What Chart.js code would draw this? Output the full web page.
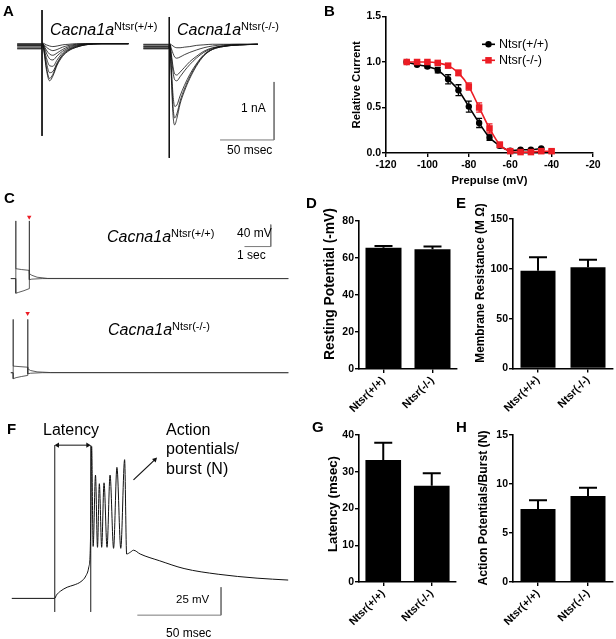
<!DOCTYPE html>
<html><head><meta charset="utf-8">
<script src="https://cdn.jsdelivr.net/npm/chart.js@4.4.0/dist/chart.umd.min.js"></script>
<style>
html,body{margin:0;padding:0;background:#fff;}
#fig{position:relative;width:616px;height:639px;overflow:hidden;font-family:Arial,"Liberation Sans",Helvetica,sans-serif;color:#000;background:#fff;}
.t{position:absolute;white-space:nowrap;line-height:1;}
.vt{position:absolute;white-space:nowrap;line-height:1;font-weight:bold;transform:translate(-50%,-50%) rotate(-90deg);}
.sup{font-style:normal;font-size:11px;position:relative;top:-5px;}
</style></head><body>
<div id="fig"></div>
<script>
// ================= DATA =================
// Panel A: Ca2+ current families (time in ms, current in nA)
const ampTimeWT = [-23, -0.5, 0.5, 2, 4, 7, 10, 14, 19, 25, 32, 40, 55, 80];
const ampWT1 = [-0.05, -0.05, 0.02, -0.12, -0.40, -0.60, -0.52, -0.33, -0.18, -0.08, -0.02, 0.02, 0.04, 0.04];
const ampWT2 = [-0.04, -0.04, 0.03, -0.10, -0.36, -0.56, -0.49, -0.31, -0.16, -0.07, -0.02, 0.02, 0.04, 0.04];
const ampWT3 = [-0.02, -0.02, 0.03, -0.08, -0.28, -0.46, -0.44, -0.29, -0.15, -0.06, -0.01, 0.02, 0.04, 0.04];
const ampWT4 = [0.00, 0.00, 0.04, -0.05, -0.20, -0.34, -0.35, -0.24, -0.12, -0.05, 0.00, 0.03, 0.04, 0.04];
const ampWT5 = [0.01, 0.01, 0.04, -0.02, -0.12, -0.22, -0.24, -0.17, -0.09, -0.03, 0.01, 0.03, 0.04, 0.04];
const ampWT6 = [0.02, 0.02, 0.04, 0.00, -0.07, -0.14, -0.16, -0.12, -0.06, -0.01, 0.02, 0.03, 0.04, 0.04];
const ampWT7 = [0.03, 0.03, 0.04, 0.02, -0.02, -0.06, -0.08, -0.06, -0.02, 0.01, 0.03, 0.04, 0.04, 0.04];
const ampWT8 = [0.04, 0.04, 0.05, 0.04, 0.02, 0.00, -0.01, 0.00, 0.02, 0.03, 0.04, 0.04, 0.04, 0.04];
const ampTimeKO = [-24, -0.5, 0.5, 2, 3.5, 5, 7, 10, 14, 19, 25, 32, 40, 50, 65, 82];
const ampKO1 = [-0.05, -0.05, 0.02, -0.60, -1.20, -1.36, -1.25, -1.00, -0.78, -0.56, -0.35, -0.17, -0.06, -0.01, 0.02, 0.03];
const ampKO2 = [-0.04, -0.04, 0.02, -0.50, -1.05, -1.24, -1.17, -0.95, -0.74, -0.53, -0.33, -0.16, -0.06, -0.01, 0.02, 0.03];
const ampKO3 = [-0.03, -0.03, 0.02, -0.40, -0.85, -1.04, -1.02, -0.86, -0.68, -0.49, -0.31, -0.15, -0.05, 0.00, 0.02, 0.03];
const ampKO4 = [-0.01, -0.01, 0.03, -0.20, -0.45, -0.58, -0.60, -0.53, -0.43, -0.32, -0.21, -0.11, -0.04, 0.00, 0.02, 0.03];
const ampKO5 = [0.00, 0.00, 0.03, -0.15, -0.36, -0.48, -0.50, -0.45, -0.37, -0.27, -0.18, -0.09, -0.03, 0.00, 0.02, 0.03];
const ampKO6 = [0.02, 0.02, 0.03, -0.05, -0.13, -0.19, -0.21, -0.19, -0.15, -0.11, -0.07, -0.03, 0.00, 0.02, 0.03, 0.03];
const ampKO7 = [0.03, 0.03, 0.04, 0.02, 0.00, -0.02, -0.03, -0.03, -0.02, -0.01, 0.01, 0.02, 0.03, 0.03, 0.03, 0.03];
const stepArtifactWT = [0.62, -1.55];   // nA extent of step artifact
const stepArtifactKO = [0.50, -1.93];
const scaleBarA = { nA: 1, ms: 50 };

// Panel B: steady-state inactivation
const seriesNames = ['Ntsr(+/+)', 'Ntsr(-/-)'];
const prepulse = [-110, -105, -100, -95, -90, -85, -80, -75, -70, -65, -60, -55, -50, -45, -40];
const wtCurrent = [1.00, 0.97, 0.95, 0.91, 0.81, 0.69, 0.51, 0.33, 0.17, 0.08, 0.025, 0.035, 0.035, 0.05, null];
const wtError   = [0.01, 0.01, 0.015, 0.03, 0.05, 0.06, 0.06, 0.05, 0.03, 0.02, 0.01, 0.01, 0.01, 0.01, null];
const koCurrent = [1.00, 1.00, 1.00, 0.99, 0.96, 0.88, 0.73, 0.50, 0.27, 0.09, 0.02, 0.01, 0.01, 0.02, 0.02];
const koError   = [0.01, 0.01, 0.01, 0.01, 0.02, 0.03, 0.04, 0.05, 0.05, 0.03, 0.02, 0.01, 0.01, 0.02, 0.02];
const prepulseTicks = [-120, -100, -80, -60, -40, -20];
const currentTicks = [0, 0.5, 1.0, 1.5];

// Panel C: voltage traces (time in s, voltage in mV)
const cTopDepT = [0, 0.185, 0.187, 0.195, 0.40, 0.70, 0.705, 0.80, 1.2, 10.56];
const cTopDepV = [-65, -65, 40, -47, -48.5, -50, -67, -66, -65, -65];
const cTopHypT = [0, 0.185, 0.19, 0.30, 0.50, 0.70, 0.702, 0.71, 0.80, 1.0, 1.4, 10.56];
const cTopHypV = [-65, -65, -91.7, -90, -87, -83.3, 40, -56, -59, -62.5, -64.7, -65];
const cBotDepT = [0, 0.085, 0.087, 0.095, 0.35, 0.64, 0.645, 0.75, 1.2, 10.56];
const cBotDepV = [-65, -65, 32, -53, -54, -55, -67, -66, -65, -65];
const cBotHypT = [0, 0.085, 0.09, 0.20, 0.40, 0.64, 0.642, 0.65, 0.75, 1.0, 1.5, 10.56];
const cBotHypV = [-65, -65, -76, -74, -72, -70, 32, -58, -61, -63.5, -64.7, -65];
const cTopMarker = [0.70, 47];
const cBotMarker = [0.64, 43];
const scaleBarC = { mV: 40, s: 1 };

// Panel F: burst trace (time in ms, voltage in mV)
const fTime = [0, 25.6, 26.7, 29.1, 33.1, 37.2, 41.3, 44.2, 46.0, 46.8, 47.3, 47.7, 48.6, 50.0, 51.2, 52.3, 53.7, 55.1, 56.9, 58.7, 60.8, 62.8, 65.1, 67.4, 68.6, 70.9, 72.7, 76.7, 88.4, 102.9, 123.3, 146.5, 165.1];
const fVolt = [-70, -70, -67, -63.5, -60, -58, -55, -50, -42, -30, 10, 66, -23.5, 40.3, -24.3, 32.6, -24.3, 33.4, -24.3, 40.3, -25.2, 47.2, -25.2, 54.1, -30.3, -28.6, -26.9, -30.3, -36.4, -43.3, -48.4, -51.9, -53.6];
const latencyWindow = [25.6, 47.1];     // ms
const scaleBarF = { mV: 25, ms: 50 };

// Panels D, E, G, H: bar charts
const genotypes = ['Ntsr(+/+)', 'Ntsr(-/-)'];
const restingPotential = [65.5, 64.7], restingErr = [1.0, 1.5];
const membraneRes = [98, 101.5], membraneErr = [13.5, 7.5];
const latencyMs = [33.2, 26.2], latencyErr = [4.7, 3.4];
const apPerBurst = [7.45, 8.78], apErr = [0.9, 0.85];

// ================= SETUP =================
const FONT = 'Arial, "Liberation Sans", Helvetica, sans-serif';
Chart.defaults.font.family = FONT;
Chart.defaults.color = '#000';
const RED = '#ec1c24';
const fig = document.getElementById('fig');

function makeCanvas(left, top, w, h) {
  const c = document.createElement('canvas');
  c.width = w; c.height = h;
  c.style.cssText = `position:absolute;left:${left}px;top:${top}px;width:${w}px;height:${h}px;`;
  fig.appendChild(c);
  return c;
}
function pts(xs, ys) {
  const out = [];
  xs.forEach((x, i) => { if (ys[i] !== null && ys[i] !== undefined) out.push({ x, y: ys[i] }); });
  return out;
}
function trace(xs, ys, color, width, smooth) {
  return { data: pts(xs, ys), borderColor: color, borderWidth: width, pointRadius: 0, fill: false, clip: false,
    cubicInterpolationMode: smooth ? 'monotone' : 'default', tension: smooth ? 0.4 : 0 };
}
function traceChart(canvas, xmin, xmax, ymin, ymax, datasets) {
  return new Chart(canvas, {
    type: 'line',
    data: { datasets },
    options: {
      responsive: false, animation: false, devicePixelRatio: 1, events: [],
      layout: { padding: 0 },
      plugins: { legend: { display: false }, tooltip: { enabled: false } },
      scales: {
        x: { type: 'linear', min: xmin, max: xmax, display: false },
        y: { type: 'linear', min: ymin, max: ymax, display: false }
      }
    }
  });
}

const errorBars = {
  id: 'errorBars',
  beforeDatasetsDraw(chart, args, o) {
    const ctx = chart.ctx;
    chart.data.datasets.forEach((ds, i) => {
      if (!ds.errors) return;
      const meta = chart.getDatasetMeta(i);
      const ys = chart.scales[meta.yAxisID];
      ctx.save();
      ctx.strokeStyle = ds.errorColor || '#000';
      ctx.lineWidth = o.width;
      meta.data.forEach((el, j) => {
        const e = ds.errors[j];
        const raw = ds.data[j];
        const v = (raw && typeof raw === 'object') ? raw.y : raw;
        if (e == null || v == null) return;
        const x = el.x;
        const top = ys.getPixelForValue(v + e);
        const bot = o.upOnly ? ys.getPixelForValue(v) : ys.getPixelForValue(v - e);
        ctx.beginPath();
        ctx.moveTo(x, top); ctx.lineTo(x, bot);
        ctx.moveTo(x - o.cap / 2, top); ctx.lineTo(x + o.cap / 2, top);
        if (!o.upOnly) { ctx.moveTo(x - o.cap / 2, bot); ctx.lineTo(x + o.cap / 2, bot); }
        ctx.stroke();
      });
      ctx.restore();
    });
  }
};

const insetLegend = {
  id: 'insetLegend',
  afterDraw(chart, args, o) {
    if (!o || o.x == null) return;
    const ctx = chart.ctx;
    const items = chart.data.datasets.slice().sort((a, b) => a.legendRank - b.legendRank);
    items.forEach((ds, k) => {
      const y = o.y + k * o.gap;
      const cx = o.x + o.len / 2;
      ctx.save();
      ctx.strokeStyle = ds.borderColor; ctx.fillStyle = ds.borderColor; ctx.lineWidth = ds.borderWidth;
      ctx.beginPath(); ctx.moveTo(o.x, y); ctx.lineTo(o.x + o.len, y); ctx.stroke();
      ctx.beginPath();
      if (ds.pointStyle === 'rect') {
        const s = Math.SQRT1_2 * ds.pointRadius;
        ctx.rect(cx - s, y - s, 2 * s, 2 * s);
      } else {
        ctx.arc(cx, y, ds.pointRadius, 0, Math.PI * 2);
      }
      ctx.fill();
      ctx.fillStyle = '#000';
      ctx.font = o.font; ctx.textBaseline = 'middle'; ctx.textAlign = 'left';
      ctx.fillText(ds.label, o.x + o.len + o.textGap, y + 0.5);
      ctx.restore();
    });
  }
};

const gridStyle = { display: true, drawOnChartArea: false, drawTicks: true, tickLength: 4, color: '#000', lineWidth: 1.4 };
const borderStyle = { display: true, color: '#000', width: 1.6 };
const tickFont = { size: 10.5, weight: 'bold' };

// ================= PANEL A =================
const aYmin = -2.138, aYmax = 0.793;
const scaleGray = '#7a7a7a';
traceChart(makeCanvas(0, 0, 140, 170), -38.9, 90.7, aYmin, aYmax, [
  trace([0, 0], stepArtifactWT, '#111', 1, false),
  ...[ampWT8, ampWT7, ampWT6, ampWT5, ampWT4, ampWT3, ampWT2, ampWT1].map(c => trace(ampTimeWT, c, '#111', 0.8, true))
]);
traceChart(makeCanvas(140, 0, 160, 170), -27.1, 121.0, aYmin, aYmax, [
  trace([0, 0], stepArtifactKO, '#111', 1, false),
  ...[ampKO7, ampKO6, ampKO5, ampKO4, ampKO3, ampKO2, ampKO1].map(c => trace(ampTimeKO, c, '#111', 0.8, true)),
  trace([97, 97, 97 - scaleBarA.ms], [-1.62 + scaleBarA.nA, -1.62, -1.62], scaleGray, 1, false)
]);

// ================= PANEL B =================
function errFor(xs, ys, es) { const out = []; xs.forEach((x, i) => { if (ys[i] !== null) out.push(es[i]); }); return out; }
new Chart(makeCanvas(300, 0, 316, 200), {
  type: 'line',
  data: { datasets: [
    { label: seriesNames[1], legendRank: 1, order: 0, data: pts(prepulse, koCurrent), errors: errFor(prepulse, koCurrent, koError), errorColor: RED,
      borderColor: RED, backgroundColor: RED, pointStyle: 'rect', pointRadius: 4.6, pointBorderWidth: 0, borderWidth: 1.6,
      cubicInterpolationMode: 'monotone', tension: 0.4, fill: false, clip: false },
    { label: seriesNames[0], legendRank: 0, order: 1, data: pts(prepulse, wtCurrent), errors: errFor(prepulse, wtCurrent, wtError), errorColor: '#000',
      borderColor: '#000', backgroundColor: '#000', pointStyle: 'circle', pointRadius: 3.2, pointBorderWidth: 0, borderWidth: 1.6,
      cubicInterpolationMode: 'monotone', tension: 0.4, fill: false, clip: false }
  ]},
  options: {
    responsive: false, animation: false, devicePixelRatio: 1, events: [],
    layout: { padding: { left: 50.2, top: 16.5, right: 23, bottom: 12.2 } },
    plugins: { legend: { display: false }, tooltip: { enabled: false },
      errorBars: { width: 1.3, cap: 6, upOnly: false },
      insetLegend: { x: 182, y: 44.3, gap: 16, len: 13, textGap: 4, font: '12.5px ' + FONT } },
    scales: {
      x: { type: 'linear', min: prepulseTicks[0], max: prepulseTicks[prepulseTicks.length - 1],
        afterBuildTicks: s => { s.ticks = prepulseTicks.map(v => ({ value: v })); },
        ticks: { font: tickFont, padding: 2 }, grid: gridStyle, border: borderStyle,
        title: { display: true, text: 'Prepulse (mV)', font: { size: 11.3, weight: 'bold' }, padding: 0 },
        afterFit(s) { s.height = 34.8; s.paddingLeft = 0; s.paddingRight = 0; } },
      y: { type: 'linear', min: currentTicks[0], max: currentTicks[currentTicks.length - 1],
        afterBuildTicks: s => { s.ticks = currentTicks.map(v => ({ value: v })); },
        ticks: { font: tickFont, padding: 1, callback: v => Number(v).toFixed(1) }, grid: gridStyle, border: borderStyle,
        title: { display: true, text: 'Relative Current', font: { size: 11.3, weight: 'bold' }, padding: 0 },
        afterFit(s) { s.width = 35.8; s.paddingTop = 0; s.paddingBottom = 0; } }
    }
  },
  plugins: [errorBars, insetLegend]
});

// ================= PANEL C =================
const cXmin = -0.259, cXmax = 10.85;
const markerDs = (m) => ({ data: [{ x: m[0], y: m[1] }], pointStyle: 'triangle', pointRotation: 180, pointRadius: 2.6,
  pointBackgroundColor: RED, pointBorderColor: RED, pointBorderWidth: 0, showLine: false, clip: false });
traceChart(makeCanvas(0, 205, 300, 95), cXmin, cXmax, -96.7, 61.7, [
  trace(cTopDepT, cTopDepV, '#333', 0.8, false),
  trace(cTopHypT, cTopHypV, '#333', 0.8, false),
  markerDs(cTopMarker),
  trace([9.89, 9.89, 9.89 - scaleBarC.s], [-6.7 + scaleBarC.mV, -6.7, -6.7], scaleGray, 1, false)
]);
traceChart(makeCanvas(0, 300, 300, 95), cXmin, cXmax, -98.3, 60, [
  trace(cBotDepT, cBotDepV, '#333', 0.8, false),
  trace(cBotHypT, cBotHypV, '#333', 0.8, false),
  markerDs(cBotMarker)
]);

// ================= PANEL F =================
traceChart(makeCanvas(0, 420, 300, 219), -4.65, 169.77, -102.76, 86.03, [
  trace(fTime, fVolt, '#111', 1, true),
  trace([latencyWindow[0], latencyWindow[0]], [67.1, -82.1], '#555', 1, false),
  trace([latencyWindow[1], latencyWindow[1]], [67.1, -82.1], '#555', 1, false),
  Object.assign(trace([latencyWindow[0] + 1.7, latencyWindow[1] - 1.7], [67.1, 67.1], '#111', 1, false),
    { pointRadius: 3, pointStyle: 'triangle', pointRotation: [270, 90], pointBackgroundColor: '#111', pointBorderWidth: 0 }),
  Object.assign(trace([72.7, 85.5], [36, 54.1], '#111', 1.2, false),
    { pointRadius: [0, 3], pointStyle: 'triangle', pointRotation: 45, pointBackgroundColor: '#111', pointBorderWidth: 0 }),
  trace([125, 125, 125 - scaleBarF.ms], [-60, -60 - scaleBarF.mV, -60 - scaleBarF.mV], scaleGray, 1, false)
]);

// ================= BAR PANELS =================
function barChart(canvas, c) {
  return new Chart(canvas, {
    type: 'bar',
    data: { labels: genotypes, datasets: [{ label: c.title, data: c.values, errors: c.errors, errorColor: '#000', backgroundColor: '#000',
      borderWidth: 0, barPercentage: c.barPct, categoryPercentage: 1 }] },
    options: {
      responsive: false, animation: false, devicePixelRatio: 1, events: [],
      layout: { padding: { left: 0, top: c.padTop, right: c.padRight, bottom: 0 } },
      plugins: { legend: { display: false }, tooltip: { enabled: false }, errorBars: { width: 2, cap: c.cap, upOnly: true } },
      scales: {
        x: { grid: Object.assign({}, gridStyle, { offset: false }), border: borderStyle,
          ticks: { font: { size: 11, weight: 'bold' }, minRotation: 45, maxRotation: 45, padding: 1, autoSkip: false },
          afterFit(s) { s.height = c.xHeight; s.paddingLeft = 0; s.paddingRight = 0; } },
        y: { min: 0, max: c.ticks[c.ticks.length - 1],
          afterBuildTicks: s => { s.ticks = c.ticks.map(v => ({ value: v })); },
          ticks: { font: tickFont, padding: 1 }, grid: gridStyle, border: borderStyle,
          afterFit(s) { s.width = c.yWidth; s.paddingTop = 0; s.paddingBottom = 0; } }
      }
    },
    plugins: [errorBars]
  });
}
barChart(makeCanvas(300, 200, 160, 225), { values: restingPotential, errors: restingErr, ticks: [0, 20, 40, 60, 80],
  title: 'Resting Potential (-mV)', yWidth: 59, padTop: 21, padRight: 3, xHeight: 56, barPct: 0.735, cap: 18 });
barChart(makeCanvas(460, 200, 156, 225), { values: membraneRes, errors: membraneErr, ticks: [0, 50, 100, 150],
  title: 'Membrane Resistance (M \u03A9)', yWidth: 53, padTop: 19, padRight: 3, xHeight: 56.5, barPct: 0.7, cap: 18 });
barChart(makeCanvas(300, 420, 160, 219), { values: latencyMs, errors: latencyErr, ticks: [0, 10, 20, 30, 40],
  title: 'Latency (msec)', yWidth: 59, padTop: 15, padRight: 4, xHeight: 57, barPct: 0.735, cap: 18 });
barChart(makeCanvas(460, 420, 156, 219), { values: apPerBurst, errors: apErr, ticks: [0, 5, 10, 15],
  title: 'Action Potentials/Burst (N)', yWidth: 53, padTop: 15, padRight: 3, xHeight: 57, barPct: 0.7, cap: 18 });

// ================= TEXT LABELS =================
const labels = [
  { h: 'A', x: 3, b: 15.5, s: 15, w: 'bold' },
  { h: 'B', x: 324, b: 15.5, s: 15, w: 'bold' },
  { h: 'C', x: 4, b: 203, s: 15, w: 'bold' },
  { h: 'D', x: 306, b: 208, s: 15, w: 'bold' },
  { h: 'E', x: 456, b: 208, s: 15, w: 'bold' },
  { h: 'F', x: 7, b: 433.5, s: 15, w: 'bold' },
  { h: 'G', x: 312, b: 431.5, s: 15, w: 'bold' },
  { h: 'H', x: 456, b: 431.5, s: 15, w: 'bold' },
  { h: 'Cacna1a<span class="sup">Ntsr(+/+)</span>', x: 50, b: 36, s: 16, st: 'italic' },
  { h: 'Cacna1a<span class="sup">Ntsr(-/-)</span>', x: 177, b: 36, s: 16, st: 'italic' },
  { h: 'Cacna1a<span class="sup">Ntsr(+/+)</span>', x: 107, b: 243, s: 16, st: 'italic' },
  { h: 'Cacna1a<span class="sup">Ntsr(-/-)</span>', x: 108, b: 336, s: 16, st: 'italic' },
  { h: '1 nA', x: 241, b: 112, s: 12 },
  { h: '50 msec', x: 227, b: 154, s: 12 },
  { h: '40 mV', x: 237, b: 237, s: 12 },
  { h: '1 sec', x: 237, b: 259, s: 12 },
  { h: 'Latency', x: 43, b: 435.5, s: 16 },
  { h: 'Action', x: 166, b: 435.5, s: 16 },
  { h: 'potentials/', x: 166, b: 455, s: 16 },
  { h: 'burst (N)', x: 166, b: 474.5, s: 16 },
  { h: '25 mV', x: 176, b: 604, s: 11.5 },
  { h: '50 msec', x: 166, b: 637, s: 12 }
];
labels.forEach(l => {
  const d = document.createElement('div');
  d.className = 't';
  d.innerHTML = l.h;
  d.style.left = l.x + 'px';
  d.style.top = (l.b - 0.8465 * l.s) + 'px';
  d.style.fontSize = l.s + 'px';
  d.style.fontWeight = l.w || 'normal';
  d.style.fontStyle = l.st || 'normal';
  fig.appendChild(d);
});
// rotated y-axis titles of the bar panels (centre x, centre y, size)
const yTitles = [
  { h: 'Resting Potential (-mV)', cx: 329.5, cy: 284, s: 13.8 },
  { h: 'Membrane Resistance (M \u03A9)', cx: 481, cy: 283, s: 11.9 },
  { h: 'Latency (msec)', cx: 333, cy: 504, s: 13.2 },
  { h: 'Action Potentials/Burst (N)', cx: 483, cy: 507.5, s: 12.2 }
];
yTitles.forEach(l => {
  const d = document.createElement('div');
  d.className = 'vt';
  d.textContent = l.h;
  d.style.left = l.cx + 'px';
  d.style.top = l.cy + 'px';
  d.style.fontSize = l.s + 'px';
  fig.appendChild(d);
});
</script>
</body></html>
